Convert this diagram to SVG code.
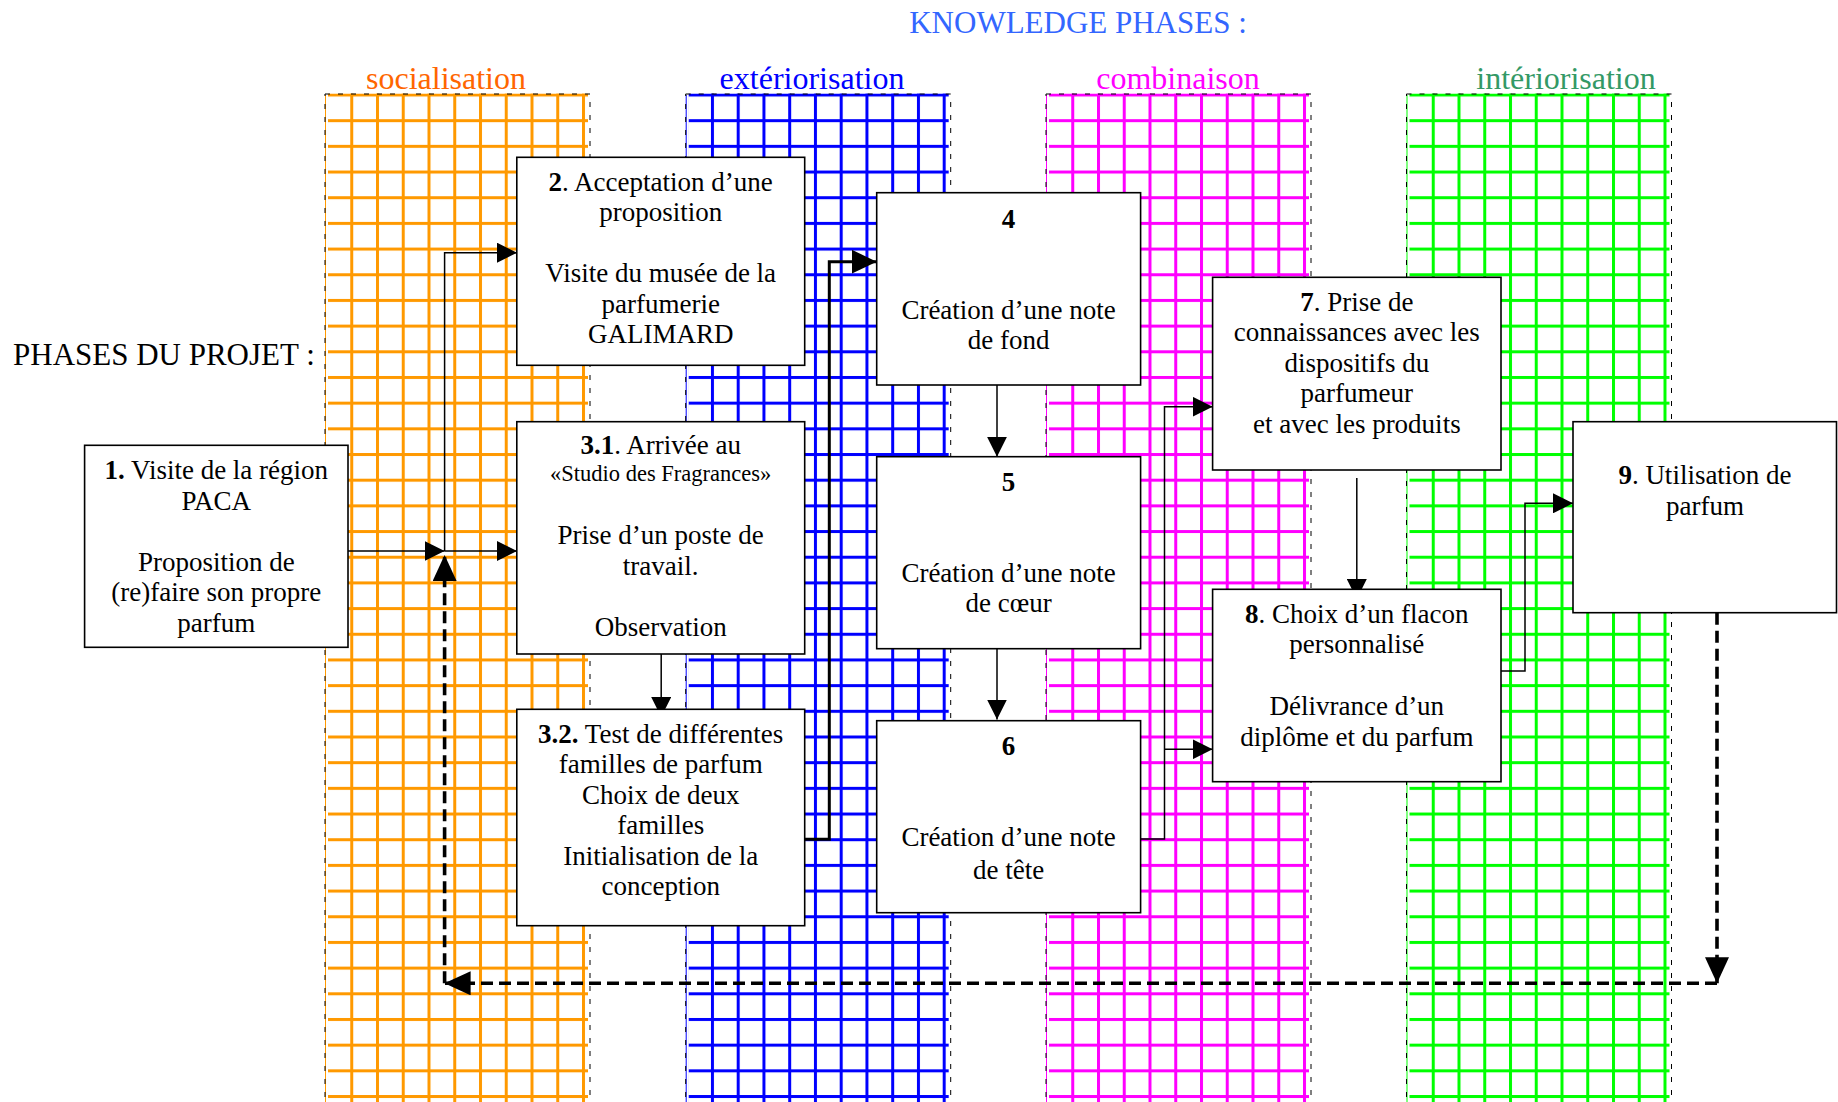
<svg xmlns="http://www.w3.org/2000/svg" width="1838" height="1102" viewBox="0 0 1838 1102">
<style>
text{font-family:"Liberation Serif","Times New Roman",serif;}
.t{font-size:27px;text-anchor:middle;fill:#000;}
.s{font-size:22.5px;}
.b{font-weight:bold;}
.h{font-size:31px;}
.ct{font-size:32px;text-anchor:middle;}
.node rect{fill:#fff;stroke:#000;stroke-width:1.6;}
.c{fill:none;stroke:#000;stroke-width:1.5;}
.ck{fill:none;stroke:#000;stroke-width:3;}
.cd{fill:none;stroke:#000;stroke-width:3.6;stroke-dasharray:12 6;}
.bd{fill:none;stroke:#000;stroke-width:1;stroke-dasharray:5 8;}
</style>
<defs>
<pattern id="gO" patternUnits="userSpaceOnUse" x="324.5" y="93.5" width="25.75" height="25.68"><rect width="3" height="25.68" fill="#FF9900"/><rect width="25.75" height="3" fill="#FF9900"/></pattern>
<pattern id="gB" patternUnits="userSpaceOnUse" x="685.2" y="93.5" width="25.75" height="25.68"><rect width="3" height="25.68" fill="#0000FF"/><rect width="25.75" height="3" fill="#0000FF"/></pattern>
<pattern id="gM" patternUnits="userSpaceOnUse" x="1045.5" y="93.5" width="25.75" height="25.68"><rect width="3" height="25.68" fill="#FF00FF"/><rect width="25.75" height="3" fill="#FF00FF"/></pattern>
<pattern id="gG" patternUnits="userSpaceOnUse" x="1406" y="93.5" width="25.75" height="25.68"><rect width="3" height="25.68" fill="#00FF00"/><rect width="25.75" height="3" fill="#00FF00"/></pattern>
<marker id="a" markerUnits="userSpaceOnUse" viewBox="0 0 20 20" refX="20" refY="10" markerWidth="20" markerHeight="20" orient="auto"><path d="M0,0 L20,10 L0,20 z" fill="#000"/></marker>
<marker id="ak" markerUnits="userSpaceOnUse" viewBox="0 0 25 24" refX="25" refY="12" markerWidth="25" markerHeight="24" orient="auto"><path d="M0,0 L25,12 L0,24 z" fill="#000"/></marker>
<marker id="ad" markerUnits="userSpaceOnUse" viewBox="0 0 26 24" refX="26" refY="12" markerWidth="26" markerHeight="24" orient="auto"><path d="M0,0 L26,12 L0,24 z" fill="#000"/></marker>
</defs>

<g id="phases">
<rect x="328" y="93.5" width="260" height="1010" fill="url(#gO)"/>
<line x1="325.5" y1="95" x2="325.5" y2="1102" stroke="#FF9900" stroke-width="1"/>
<rect class="bd" x="325" y="94" width="265" height="1010"/>
<rect x="688.7" y="93.5" width="260" height="1010" fill="url(#gB)"/>
<line x1="686.2" y1="95" x2="686.2" y2="1102" stroke="#0000FF" stroke-width="1"/>
<rect class="bd" x="685.7" y="94" width="265" height="1010"/>
<rect x="1049" y="93.5" width="260" height="1010" fill="url(#gM)"/>
<line x1="1046.5" y1="95" x2="1046.5" y2="1102" stroke="#FF00FF" stroke-width="1"/>
<rect class="bd" x="1046" y="94" width="265" height="1010"/>
<rect x="1409.5" y="93.5" width="260" height="1010" fill="url(#gG)"/>
<line x1="1407" y1="95" x2="1407" y2="1102" stroke="#00FF00" stroke-width="1"/>
<rect class="bd" x="1406.5" y="94" width="265" height="1010"/>
</g>

<g id="titles">
<text class="h" x="1078" y="33" text-anchor="middle" fill="#3366FF">KNOWLEDGE PHASES :</text>
<text class="h" x="13" y="365" fill="#000">PHASES DU PROJET :</text>
<text class="ct" x="446" y="89" fill="#FF6600">socialisation</text>
<text class="ct" x="812" y="89" fill="#0000FF">extériorisation</text>
<text class="ct" x="1178" y="89" fill="#FF00FF">combinaison</text>
<text class="ct" x="1566" y="89" fill="#339966">intériorisation</text>
</g>

<g id="connectors">
<path class="c" d="M348,551 H444.6" marker-end="url(#a)"/>
<path class="c" d="M444.6,551 H517" marker-end="url(#a)"/>
<path class="c" d="M444.6,551 V252.7 H517" marker-end="url(#a)"/>
<path class="c" d="M661.2,654 V717" marker-end="url(#a)"/>
<path class="c" d="M997,385 V456.7" marker-end="url(#a)"/>
<path class="c" d="M997,648.7 V719.5" marker-end="url(#a)"/>
<path class="ck" d="M804.7,839.3 H829.3 V261.7 H876.7" marker-end="url(#ak)"/>
<path class="c" d="M1140.6,839 H1164.5 V406.7 H1212.6" marker-end="url(#a)"/>
<path class="c" d="M1164.5,749.3 H1212.6" marker-end="url(#a)"/>
<path class="c" d="M1356.8,478 V599" marker-end="url(#a)"/>
<path class="c" d="M1501,671 H1525 V503.3 H1573" marker-end="url(#a)"/>
<path class="cd" d="M1717,612.7 V983.3" marker-end="url(#ad)"/>
<path class="cd" d="M1717,983.3 H444.6" marker-end="url(#ad)"/>
<path class="cd" d="M444.6,983.3 V555" marker-end="url(#ad)"/>
</g>

<g id="node1" class="node">
<rect x="84.6" y="445.3" width="263.4" height="202"/>
<text class="t" x="216.3" y="479.3"><tspan class="b">1.</tspan> Visite de la région</text>
<text class="t" x="216.3" y="509.8">PACA</text>
<text class="t" x="216.3" y="570.8">Proposition de</text>
<text class="t" x="216.3" y="601.3">(re)faire son propre</text>
<text class="t" x="216.3" y="631.8">parfum</text>
</g>

<g id="node2" class="node">
<rect x="516.8" y="157.3" width="287.9" height="208"/>
<text class="t" x="660.7" y="190.7"><tspan class="b">2</tspan>. Acceptation d’une</text>
<text class="t" x="660.7" y="221.2">proposition</text>
<text class="t" x="660.7" y="282.2">Visite du musée de la</text>
<text class="t" x="660.7" y="312.7">parfumerie</text>
<text class="t" x="660.7" y="343.2">GALIMARD</text>
</g>

<g id="node3-1" class="node">
<rect x="516.8" y="421.7" width="287.9" height="232.3"/>
<text class="t" x="660.7" y="454.3"><tspan class="b">3.1</tspan>. Arrivée au</text>
<text class="t s" x="660.7" y="481">«Studio des Fragrances»</text>
<text class="t" x="660.7" y="544">Prise d’un poste de</text>
<text class="t" x="660.7" y="574.5">travail.</text>
<text class="t" x="660.7" y="635.5">Observation</text>
</g>

<g id="node3-2" class="node">
<rect x="516.8" y="709.3" width="287.9" height="216.4"/>
<text class="t" x="660.7" y="742.7"><tspan class="b">3.2.</tspan> Test de différentes</text>
<text class="t" x="660.7" y="773.2">familles de parfum</text>
<text class="t" x="660.7" y="803.7">Choix de deux</text>
<text class="t" x="660.7" y="834.2">familles</text>
<text class="t" x="660.7" y="864.7">Initialisation de la</text>
<text class="t" x="660.7" y="895.2">conception</text>
</g>

<g id="node4" class="node">
<rect x="876.7" y="192.7" width="263.9" height="192.3"/>
<text class="t b" x="1008.6" y="227.7">4</text>
<text class="t" x="1008.6" y="318.5">Création d’une note</text>
<text class="t" x="1008.6" y="348.5">de fond</text>
</g>

<g id="node5" class="node">
<rect x="876.7" y="456.7" width="263.9" height="192"/>
<text class="t b" x="1008.6" y="491">5</text>
<text class="t" x="1008.6" y="581.7">Création d’une note</text>
<text class="t" x="1008.6" y="612">de cœur</text>
</g>

<g id="node6" class="node">
<rect x="876.7" y="720.7" width="263.9" height="192"/>
<text class="t b" x="1008.6" y="755">6</text>
<text class="t" x="1008.6" y="846">Création d’une note</text>
<text class="t" x="1008.6" y="879">de tête</text>
</g>

<g id="node7" class="node">
<rect x="1212.6" y="277.3" width="288.4" height="192.7"/>
<text class="t" x="1356.8" y="310.7"><tspan class="b">7</tspan>. Prise de</text>
<text class="t" x="1356.8" y="341">connaissances avec les</text>
<text class="t" x="1356.8" y="371.5">dispositifs du</text>
<text class="t" x="1356.8" y="402">parfumeur</text>
<text class="t" x="1356.8" y="433">et avec les produits</text>
</g>

<g id="node8" class="node">
<rect x="1212.6" y="589.3" width="288.4" height="192.4"/>
<text class="t" x="1356.8" y="622.7"><tspan class="b">8</tspan>. Choix d’un flacon</text>
<text class="t" x="1356.8" y="653">personnalisé</text>
<text class="t" x="1356.8" y="714.5">Délivrance d’un</text>
<text class="t" x="1356.8" y="745.5">diplôme et du parfum</text>
</g>

<g id="node9" class="node">
<rect x="1573" y="421.7" width="263.5" height="191"/>
<text class="t" x="1705" y="484"><tspan class="b">9</tspan>. Utilisation de</text>
<text class="t" x="1705" y="514.5">parfum</text>
</g>
</svg>
